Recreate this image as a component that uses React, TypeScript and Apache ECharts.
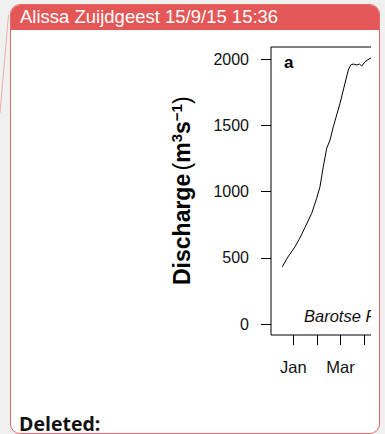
import React, { useEffect, useRef } from "react";
import * as echarts from "echarts";

// ---- data ----
const monthNames = ["Jan", "Feb", "Mar", "Apr", "May", "Jun", "Jul", "Aug", "Sep", "Oct", "Nov", "Dec"];
const xTickMonths = [0, 1, 2, 3, 4, 5, 6, 7, 8, 9, 10, 11, 12];
const xLabelMonths = [0, 2];
const yTickValues = [0, 500, 1000, 1500, 2000];

// x = months since 1 Jan, y = discharge (m3/s)
const dischargeMonth = [-0.466, -0.23, 0.072, 0.28, 0.496, 0.78, 0.99, 1.13, 1.27, 1.415, 1.555, 1.695, 1.98, 2.19, 2.33, 2.43, 2.54, 2.69, 2.8, 2.9, 3.04, 3.25, 3.35];
const dischargeValue = [434, 507, 585, 651, 731, 837, 950, 1037, 1188, 1327, 1389, 1490, 1666, 1817, 1917, 1955, 1962, 1955, 1962, 1947, 1980, 2005, 2010];

const headerText = "Alissa Zuijdgeest 15/9/15 15:36";
const panelLetter = "a";
const siteLabel = "Barotse Floodplain";
const deletedLabel = "Deleted:";

const SANS = "'Liberation Sans', Arial, Helvetica, sans-serif";

export default function App() {
  const ref = useRef<HTMLDivElement>(null);

  useEffect(() => {
    if (!ref.current) return;
    const chart = echarts.init(ref.current, null, { renderer: "svg" });
    const data = dischargeMonth.map((m, i) => [m, dischargeValue[i]]);
    chart.setOption({
      animation: false,
      backgroundColor: "transparent",
      grid: {
        show: true,
        left: 271,
        top: 47,
        right: 14,
        bottom: 99,
        borderColor: "#000",
        borderWidth: 1,
        backgroundColor: "transparent",
        containLabel: false,
        outerBoundsMode: "none",
      },
      xAxis: {
        type: "value",
        min: -0.945,
        max: 12.4,
        axisLine: { show: false, onZero: false },
        splitLine: { show: false },
        axisTick: {
          show: true,
          inside: false,
          length: 10,
          customValues: xTickMonths,
          lineStyle: { color: "#000", width: 1 },
        },
        axisLabel: {
          customValues: xLabelMonths,
          formatter: (v: number) => monthNames[((Math.round(v) % 12) + 12) % 12],
          margin: 23,
          fontSize: 16.5,
          fontFamily: SANS,
          color: "#111",
        },
      },
      yAxis: {
        type: "value",
        min: -80.7,
        max: 2090.5,
        axisLine: { show: false, onZero: false },
        splitLine: { show: false },
        axisTick: {
          show: true,
          inside: false,
          length: 10,
          customValues: yTickValues,
          lineStyle: { color: "#000", width: 1 },
        },
        axisLabel: {
          customValues: yTickValues,
          formatter: (v: number) => String(Math.round(v)),
          margin: 22,
          fontSize: 16,
          fontFamily: SANS,
          color: "#111",
        },
      },
      series: [
        {
          type: "line",
          data,
          showSymbol: false,
          symbol: "none",
          clip: true,
          lineStyle: { color: "#000", width: 1 },
        },
      ],
      graphic: [
        {
          type: "text",
          x: 284,
          y: 62.4,
          style: {
            text: panelLetter,
            font: "bold 17px 'Liberation Sans', Arial, sans-serif",
            fill: "#000",
            textAlign: "left",
            textVerticalAlign: "middle",
          },
        },
        {
          type: "text",
          x: 304,
          y: 316,
          style: {
            text: siteLabel,
            font: "italic 16.5px 'Liberation Sans', Arial, sans-serif",
            fill: "#111",
            textAlign: "left",
            textVerticalAlign: "middle",
          },
        },
        {
          type: "text",
          x: 169,
          y: 285,
          rotation: Math.PI / 2,
          style: {
            text: "{b|Discharge}{g| }{p|(}{b|m}{s|3}{b|s}{s|\u22121}{p|)}",
            textAlign: "left",
            textVerticalAlign: "top",
            fill: "#000",
            rich: {
              b: { fontFamily: SANS, fontSize: 23, fontWeight: "bold", lineHeight: 26, fill: "#000" },
              p: { fontFamily: SANS, fontSize: 23, fontWeight: "normal", lineHeight: 26, fill: "#000" },
              g: { fontFamily: SANS, fontSize: 12, lineHeight: 26 },
              s: { fontFamily: SANS, fontSize: 15, fontWeight: "bold", lineHeight: 20, verticalAlign: "top", fill: "#000" },
            },
          },
        },
      ],
    });
    return () => chart.dispose();
  }, []);

  return (
    <div
      style={{
        position: "fixed",
        left: 0,
        top: 0,
        width: 385,
        height: 434,
        background: "#f0f0f0",
        overflow: "hidden",
      }}
    >
      <svg width={385} height={434} style={{ position: "absolute", left: 0, top: 0 }}>
        <line x1={8.5} y1={15} x2={0} y2={113} stroke="#f2aaaa" strokeWidth={1} />
      </svg>
      <div
        style={{
          position: "absolute",
          left: 10,
          top: 4,
          width: 370,
          height: 430,
          boxSizing: "border-box",
          border: "1px solid #e86868",
          borderRadius: 10,
          background: "#fff",
          overflow: "hidden",
        }}
      >
        <div
          style={{
            height: 25,
            background: "#e45757",
            color: "#fff",
            fontFamily: SANS,
            fontSize: 18.5,
            lineHeight: "24px",
            paddingLeft: 9,
            whiteSpace: "nowrap",
          }}
        >
          {headerText}
        </div>
      </div>
      <div
        style={{
          position: "absolute",
          left: 11,
          top: 30,
          width: 360,
          height: 380,
          overflow: "hidden",
        }}
      >
        <div
          ref={ref}
          style={{ position: "absolute", left: -11, top: -30, width: 600, height: 434 }}
        />
      </div>
      <div
        style={{
          position: "absolute",
          left: 19,
          top: 416,
          fontFamily: "'Open Sans', sans-serif",
          fontWeight: "bold",
          fontSize: 19.5,
          lineHeight: "16px",
          color: "#111",
          whiteSpace: "nowrap",
        }}
      >
        {deletedLabel}
      </div>
    </div>
  );
}
